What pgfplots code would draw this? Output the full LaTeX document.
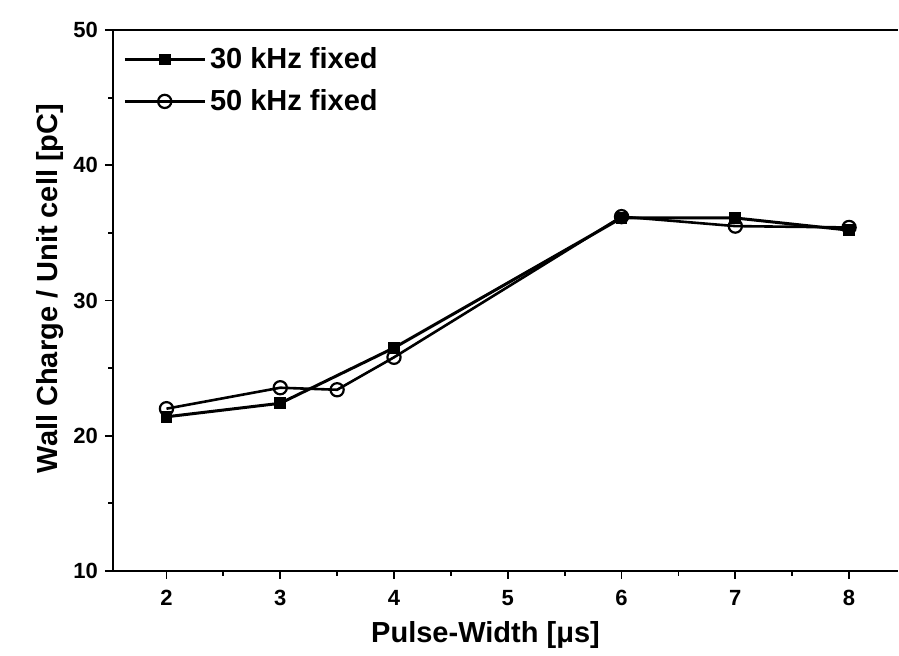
\documentclass[border=0pt]{standalone}
\usepackage{pgfplots}
\pgfplotsset{compat=1.18}
\usepackage{fontspec}
\setmainfont{Liberation Sans}
\begin{document}
\begin{tikzpicture}
\begin{axis}[
  scale only axis,
  width=392.5pt, height=270.5pt,
  xmin=1.53, xmax=8.43, ymin=10, ymax=50,
  axis x line=box, axis y line=left,
  axis line style={line width=1pt, -},
  xtick={2,3,4,5,6,7,8}, ytick={10,20,30,40,50},
  minor x tick num=1, minor y tick num=1,
  tick align=outside, xtick pos=bottom, ytick pos=left,
  major tick length=4pt, minor tick length=2.5pt,
  tick style={line width=0.9pt, black},
  /pgf/number format/assume math mode=true,
  tick label style={font=\fontsize{11}{12}\selectfont\bfseries},
  xticklabel style={yshift=-2pt},
  xlabel={Pulse-Width [μs]},
  ylabel={Wall Charge / Unit cell [pC]},
  label style={font=\fontsize{14.5}{16}\selectfont\bfseries},
  xlabel style={yshift=-1pt, xshift=-10pt},
  ylabel style={yshift=-2pt, xshift=6pt},
  legend style={at={(0.0,1)}, anchor=north west, draw=none, fill=none,
    font=\fontsize{14.5}{16}\selectfont\bfseries, row sep=5pt,
    xshift=2pt, yshift=-4.5pt},
  legend cell align=left,
  legend image code/.code={
    \draw[#1, mark repeat=2, mark phase=2] plot coordinates {(0cm,0cm) (0.7cm,0cm) (1.4cm,0cm)};},
]
\addplot[black, line width=1.5pt, mark=square*, mark size=2.2pt, mark options={solid, fill=black}]
coordinates {(2,21.4) (3,22.4) (4,26.5) (6,36.1) (7,36.1) (8,35.2)};
\addlegendentry{30 kHz fixed}
\addplot[black, line width=1.3pt, mark=o, mark size=3.3pt, mark options={solid, fill=white, line width=1.1pt}]
coordinates {(2,22.0) (3,23.55) (3.5,23.4) (4,25.8) (6,36.2) (7,35.5) (8,35.4)};
\addlegendentry{50 kHz fixed}
\coordinate (SW) at (rel axis cs:0,0);
\coordinate (NE) at (rel axis cs:1,1);
\end{axis}
\pgfresetboundingbox
\path[use as bounding box] ([shift={(-56.5pt,-42.5pt)}]SW) rectangle ([shift={(0.5pt,15pt)}]NE);
\end{tikzpicture}
\end{document}
